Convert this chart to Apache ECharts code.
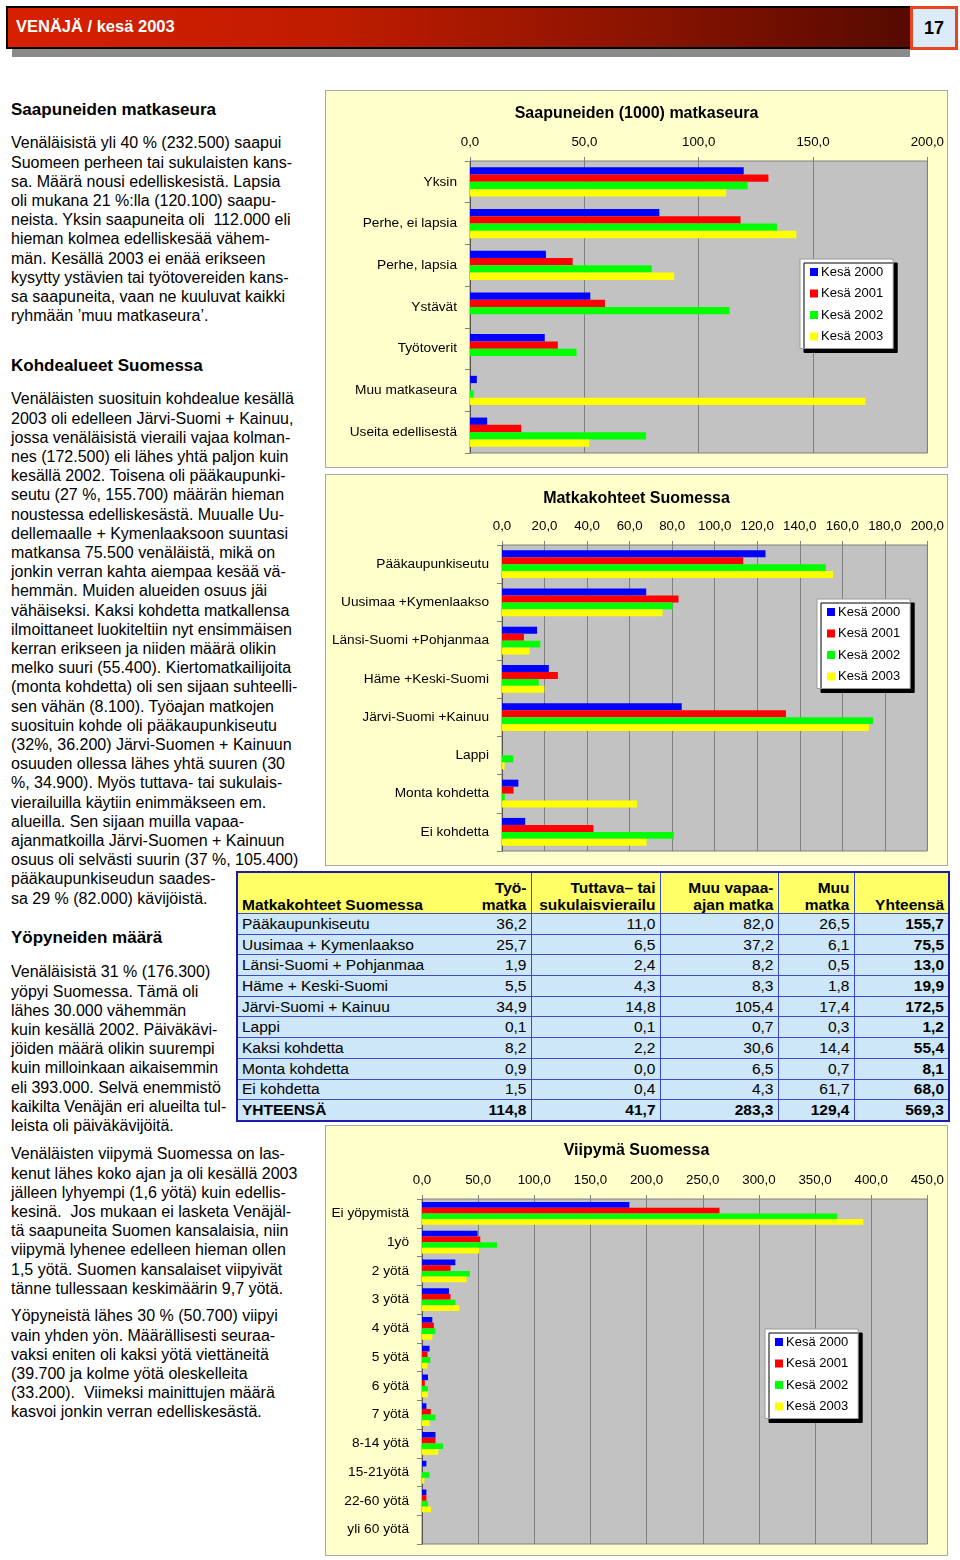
<!DOCTYPE html>
<html lang="fi">
<head>
<meta charset="UTF-8">
<title>VENÄJÄ / kesä 2003</title>
<script src="https://cdn.jsdelivr.net/npm/echarts@6/dist/echarts.min.js"></script>
<style>
    body { margin: 0; background: #fff; }
    #page { position: relative; width: 960px; height: 1560px; overflow: hidden;
            font-family: "Liberation Sans", Arial, sans-serif; color: #000; }
    .hdr-shadow { position: absolute; left: 12px; top: 14px; width: 898px; height: 43px; background: #8a8a8a; }
    .hdr { position: absolute; left: 6px; top: 6px; width: 902px; height: 39px; border: 2px solid #000;
           background: linear-gradient(to right, #d82000 0%, #c01c00 35%, #8a1400 70%, #560a00 100%); }
    .hdr span { position: absolute; left: 8px; top: 9px; color: #fff; font-weight: bold; font-size: 16.5px; }
    .pnum { position: absolute; left: 910px; top: 6px; width: 42px; height: 38px; border: 3px solid #e8461e;
            background: #dcebfa; text-align: center; line-height: 38px; font-weight: bold; font-size: 18px; }
    .hd { position: absolute; left: 11px; font-size: 17px; font-weight: bold; line-height: 20px; white-space: nowrap; }
    .txt { position: absolute; left: 11px; font-size: 16px; line-height: 19.2px; white-space: nowrap; }
    .panel { position: absolute; left: 325px; width: 621px; background: #ffffcc; border: 1px solid #a8a8a8; }
    #tbl { position: absolute; left: 236px; top: 871px; width: 714px; border-collapse: collapse; table-layout: fixed;
           border: 2px solid #1c1ca8; font-size: 15.5px; }
    #tbl td, #tbl th { border: 1px solid #3a4ad0; padding: 0 4px; height: 19.7px; line-height: 18px; white-space: nowrap; overflow: visible; }
    #tbl th { background: #ffff66; font-weight: bold; vertical-align: bottom; text-align: right; height: 40px; line-height: 17px; }
    #tbl td { background: #cde6f8; text-align: right; }
    #tbl .lbl { text-align: left; border-right: none; }
    #tbl .c1 { border-left: none; }
    #tbl .tot td { font-weight: bold; }
    #tbl .yht { font-weight: bold; }
</style>
</head>
<body>
<div id="page">
    <div class="hdr-shadow"></div>
    <div class="hdr"><span>VENÄJÄ / kesä 2003</span></div>
    <div class="pnum">17</div>

    <div class="hd" style="top:100px">Saapuneiden matkaseura</div>
    <div class="txt" style="top:133.4px">
        Venäläisistä yli 40 % (232.500) saapui<br>
        Suomeen perheen tai sukulaisten kans-<br>
        sa. Määrä nousi edelliskesistä. Lapsia<br>
        oli mukana 21 %:lla (120.100) saapu-<br>
        neista. Yksin saapuneita oli&nbsp; 112.000 eli<br>
        hieman kolmea edelliskesää vähem-<br>
        män. Kesällä 2003 ei enää erikseen<br>
        kysytty ystävien tai työtovereiden kans-<br>
        sa saapuneita, vaan ne kuuluvat kaikki<br>
        ryhmään ’muu matkaseura’.
    </div>

    <div class="hd" style="top:356px">Kohdealueet Suomessa</div>
    <div class="txt" style="top:389.4px">
        Venäläisten suosituin kohdealue kesällä<br>
        2003 oli edelleen Järvi-Suomi + Kainuu,<br>
        jossa venäläisistä vieraili vajaa kolman-<br>
        nes (172.500) eli lähes yhtä paljon kuin<br>
        kesällä 2002. Toisena oli pääkaupunki-<br>
        seutu (27 %, 155.700) määrän hieman<br>
        noustessa edelliskesästä. Muualle Uu-<br>
        dellemaalle + Kymenlaaksoon suuntasi<br>
        matkansa 75.500 venäläistä, mikä on<br>
        jonkin verran kahta aiempaa kesää vä-<br>
        hemmän. Muiden alueiden osuus jäi<br>
        vähäiseksi. Kaksi kohdetta matkallensa<br>
        ilmoittaneet luokiteltiin nyt ensimmäisen<br>
        kerran erikseen ja niiden määrä olikin<br>
        melko suuri (55.400). Kiertomatkailijoita<br>
        (monta kohdetta) oli sen sijaan suhteelli-<br>
        sen vähän (8.100). Työajan matkojen<br>
        suosituin kohde oli pääkaupunkiseutu<br>
        (32%, 36.200) Järvi-Suomen + Kainuun<br>
        osuuden ollessa lähes yhtä suuren (30<br>
        %, 34.900). Myös tuttava- tai sukulais-<br>
        vierailuilla käytiin enimmäkseen em.<br>
        alueilla. Sen sijaan muilla vapaa-<br>
        ajanmatkoilla Järvi-Suomen + Kainuun<br>
        osuus oli selvästi suurin (37 %, 105.400)<br>
        pääkaupunkiseudun saades-<br>
        sa 29 % (82.000) kävijöistä.
    </div>

    <div class="hd" style="top:928px">Yöpyneiden määrä</div>
    <div class="txt" style="top:962.4px">
        Venäläisistä 31 % (176.300)<br>
        yöpyi Suomessa. Tämä oli<br>
        lähes 30.000 vähemmän<br>
        kuin kesällä 2002. Päiväkävi-<br>
        jöiden määrä olikin suurempi<br>
        kuin milloinkaan aikaisemmin<br>
        eli 393.000. Selvä enemmistö<br>
        kaikilta Venäjän eri alueilta tul-<br>
        leista oli päiväkävijöitä.
    </div>
    <div class="txt" style="top:1144.4px">
        Venäläisten viipymä Suomessa on las-<br>
        kenut lähes koko ajan ja oli kesällä 2003<br>
        jälleen lyhyempi (1,6 yötä) kuin edellis-<br>
        kesinä.&nbsp; Jos mukaan ei lasketa Venäjäl-<br>
        tä saapuneita Suomen kansalaisia, niin<br>
        viipymä lyhenee edelleen hieman ollen<br>
        1,5 yötä. Suomen kansalaiset viipyivät<br>
        tänne tullessaan keskimäärin 9,7 yötä.
    </div>
    <div class="txt" style="top:1306.4px">
        Yöpyneistä lähes 30 % (50.700) viipyi<br>
        vain yhden yön. Määrällisesti seuraa-<br>
        vaksi eniten oli kaksi yötä viettäneitä<br>
        (39.700 ja kolme yötä oleskelleita<br>
        (33.200).&nbsp; Viimeksi mainittujen määrä<br>
        kasvoi jonkin verran edelliskesästä.
    </div>

    <div class="panel" id="seuraBox" style="top:90px;height:376px"></div>
    <div class="panel" id="kohdeBox" style="top:474px;height:390px"></div>
    <div class="panel" id="viipymaBox" style="top:1125px;height:429px"></div>

    <table id="tbl">
        <colgroup>
            <col style="width:223px"><col style="width:71px"><col style="width:129px">
            <col style="width:118px"><col style="width:76px"><col style="width:95px">
        </colgroup>
    </table>
</div>

<script>
    // --- data ---
    var kesat = ['Kesä 2000', 'Kesä 2001', 'Kesä 2002', 'Kesä 2003'];
    var colors = ['#0000ff', '#ff0000', '#00ff00', '#ffff00'];

    // Saapuneiden (1000) matkaseura
    var seuraCats = ['Yksin', 'Perhe, ei lapsia', 'Perhe, lapsia', 'Ystävät', 'Työtoverit', 'Muu matkaseura', 'Useita edellisestä'];
    var seura2000 = [119.7, 82.8, 33.2, 52.6, 32.7, 3.0, 7.5];
    var seura2001 = [130.5, 118.3, 44.9, 59.0, 38.4, null, 22.4];
    var seura2002 = [121.4, 134.3, 79.5, 113.5, 46.6, 1.6, 77.0];
    var seura2003 = [112.0, 142.7, 89.3, null, null, 172.9, 52.1];

    // Matkakohteet Suomessa
    var kohdeCats = ['Pääkaupunkiseutu', 'Uusimaa +Kymenlaakso', 'Länsi-Suomi +Pohjanmaa', 'Häme +Keski-Suomi',
                     'Järvi-Suomi +Kainuu', 'Lappi', 'Monta kohdetta', 'Ei kohdetta'];
    var kohde2000 = [123.9, 67.8, 16.5, 22.0, 84.5, 0, 7.7, 10.9];
    var kohde2001 = [113.4, 83.0, 10.3, 26.3, 133.5, 0, 5.4, 43.0];
    var kohde2002 = [152.3, 80.2, 18.0, 17.3, 174.5, 5.3, 1.3, 80.8];
    var kohde2003 = [155.7, 75.5, 13.0, 19.9, 172.5, 1.2, 63.5, 68.0];

    // Viipymä Suomessa
    var viipymaCats = ['Ei yöpymistä', '1yö', '2 yötä', '3 yötä', '4 yötä', '5 yötä', '6 yötä', '7 yötä',
                       '8-14 yötä', '15-21yötä', '22-60 yötä', 'yli 60 yötä'];
    var viipyma2000 = [184.7, 49.5, 29.7, 24.0, 9.2, 6.7, 5.3, 3.9, 12.0, 3.9, 3.9, 0];
    var viipyma2001 = [264.9, 51.9, 25.4, 25.4, 10.6, 4.9, 2.5, 7.8, 12.0, 0, 3.9, 0];
    var viipyma2002 = [369.8, 66.8, 42.7, 29.7, 12.0, 7.4, 5.3, 12.0, 18.7, 6.7, 5.3, 0];
    var viipyma2003 = [393.0, 50.7, 39.7, 33.2, 9.2, 4.9, 5.3, 6.7, 14.5, 2.1, 8.1, 0];

    // taulukko: matkakohteet matkan tarkoituksen mukaan
    var tblHead = ['Matkakohteet Suomessa', 'Työ-<br>matka', 'Tuttava– tai<br>sukulaisvierailu', 'Muu vapaa-<br>ajan matka', 'Muu<br>matka', 'Yhteensä'];
    var tblRows = ['Pääkaupunkiseutu', 'Uusimaa + Kymenlaakso', 'Länsi-Suomi + Pohjanmaa', 'Häme + Keski-Suomi',
                   'Järvi-Suomi + Kainuu', 'Lappi', 'Kaksi kohdetta', 'Monta kohdetta', 'Ei kohdetta'];
    var tyomatka = [36.2, 25.7, 1.9, 5.5, 34.9, 0.1, 8.2, 0.9, 1.5];
    var tuttava = [11.0, 6.5, 2.4, 4.3, 14.8, 0.1, 2.2, 0.0, 0.4];
    var vapaa = [82.0, 37.2, 8.2, 8.3, 105.4, 0.7, 30.6, 6.5, 4.3];
    var muuMatka = [26.5, 6.1, 0.5, 1.8, 17.4, 0.3, 14.4, 0.7, 61.7];
    var yhteensa = [155.7, 75.5, 13.0, 19.9, 172.5, 1.2, 55.4, 8.1, 68.0];
    var totals = [114.8, 41.7, 283.3, 129.4, 569.3];

    function fmt(v) { return v.toFixed(1).replace('.', ','); }

    var sans = '"Liberation Sans", Arial, sans-serif';

    function barChart(id, title, cats, data, max, interval, grid, catGap, legendPos) {
        var chart = echarts.init(document.getElementById(id));
        var series = data.map(function (d, i) {
            return {
                name: kesat[i],
                type: 'bar',
                data: d,
                barGap: '0%',
                barCategoryGap: catGap,
                itemStyle: { color: colors[i] }
            };
        });
        chart.setOption({
            animation: false,
            title: {
                text: title,
                left: 'center',
                top: grid.titleTop,
                textStyle: { fontSize: 16, fontWeight: 'bold', color: '#000', fontFamily: sans }
            },
            legend: {
                data: kesat,
                orient: 'vertical',
                left: legendPos[0],
                top: legendPos[1],
                icon: 'rect',
                itemWidth: 8,
                itemHeight: 8,
                itemGap: 7.5,
                padding: [6, 10, 5, 10],
                backgroundColor: '#fff',
                borderColor: '#9a9a9a',
                borderWidth: 1,
                shadowColor: '#000',
                shadowBlur: 0,
                shadowOffsetX: 4,
                shadowOffsetY: 4,
                textStyle: { fontSize: 13, color: '#000', fontFamily: sans, padding: [0, 0, 0, -2], lineHeight: 14 }
            },
            grid: {
                left: grid.left, top: grid.top, width: grid.width, height: grid.height,
                show: true, backgroundColor: '#c2c2c2', borderColor: '#808080', borderWidth: 1
            },
            xAxis: {
                type: 'value',
                position: 'top',
                min: 0,
                max: max,
                interval: interval,
                axisLine: { show: false },
                axisTick: { show: true, length: 4, lineStyle: { color: '#808080' } },
                splitLine: { show: true, lineStyle: { color: '#808080', width: 1 } },
                axisLabel: { margin: 12, fontSize: 13.3, color: '#000', fontFamily: sans, formatter: fmt }
            },
            yAxis: {
                type: 'category',
                inverse: true,
                data: cats,
                axisLine: { lineStyle: { color: '#555' } },
                axisTick: { show: true, length: 5, lineStyle: { color: '#808080' } },
                axisLabel: { margin: 13, fontSize: 13.7, color: '#000', fontFamily: sans }
            },
            series: series
        });
    }

    barChart('seuraBox', 'Saapuneiden (1000) matkaseura', seuraCats,
        [seura2000, seura2001, seura2002, seura2003], 200, 50,
        { left: 144, top: 70, width: 458, height: 292, titleTop: 10 }, '30%', [474, 168]);

    barChart('kohdeBox', 'Matkakohteet Suomessa', kohdeCats,
        [kohde2000, kohde2001, kohde2002, kohde2003], 200, 20,
        { left: 176, top: 70, width: 426, height: 306, titleTop: 11 }, '27%', [491, 124]);

    barChart('viipymaBox', 'Viipymä Suomessa', viipymaCats,
        [viipyma2000, viipyma2001, viipyma2002, viipyma2003], 450, 50,
        { left: 96, top: 73, width: 510, height: 345, titleTop: 12 }, '21%', [439, 203]);

    // taulukko
    var html = '<tr>';
    tblHead.forEach(function (h, i) {
        var cls = i === 0 ? ' class="lbl" style="text-align:left"' : (i === 1 ? ' class="c1"' : '');
        html += '<th' + cls + '>' + h + '</th>';
    });
    html += '</tr>';
    tblRows.forEach(function (r, i) {
        html += '<tr><td class="lbl">' + r + '</td>' +
            '<td class="c1">' + fmt(tyomatka[i]) + '</td>' +
            '<td>' + fmt(tuttava[i]) + '</td>' +
            '<td>' + fmt(vapaa[i]) + '</td>' +
            '<td>' + fmt(muuMatka[i]) + '</td>' +
            '<td class="yht">' + fmt(yhteensa[i]) + '</td></tr>';
    });
    html += '<tr class="tot"><td class="lbl">YHTEENSÄ</td>';
    totals.forEach(function (t, i) {
        html += '<td' + (i === 0 ? ' class="c1"' : '') + '>' + fmt(t) + '</td>';
    });
    html += '</tr>';
    document.getElementById('tbl').insertAdjacentHTML('beforeend', html);
</script>
</body>
</html>
